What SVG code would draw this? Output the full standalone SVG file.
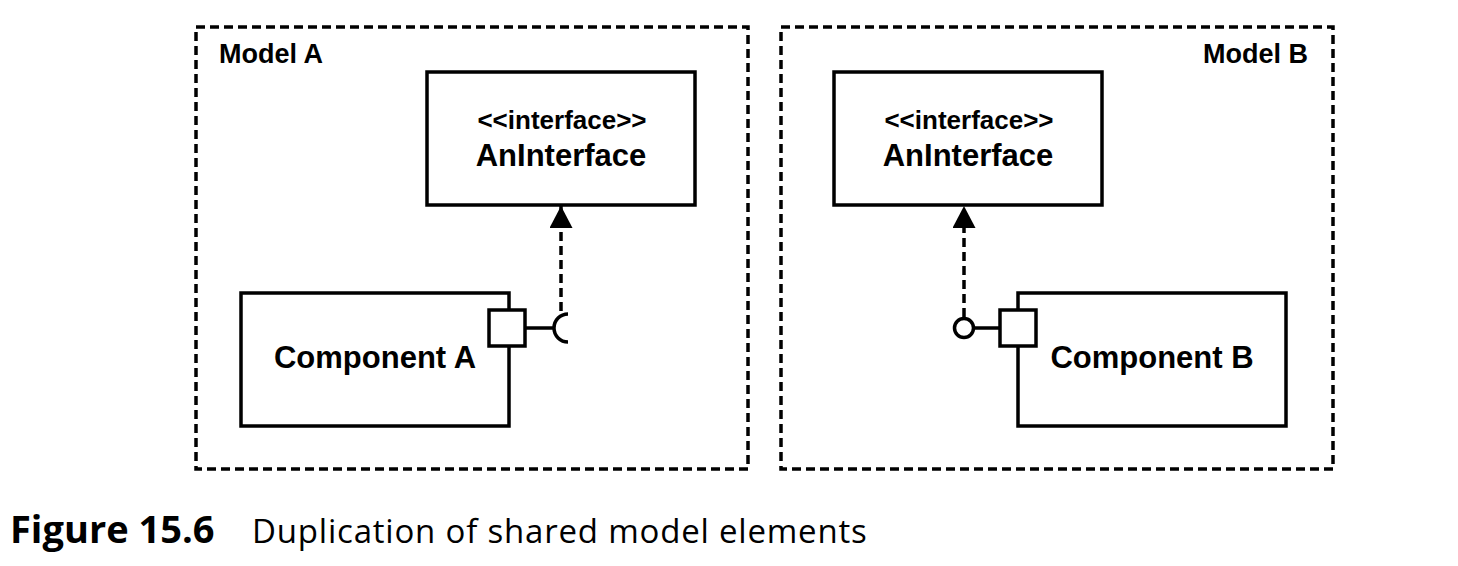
<svg xmlns="http://www.w3.org/2000/svg" width="1458" height="566" viewBox="0 0 1458 566">
<defs>
<style>
.frame{fill:none;stroke:#000;stroke-width:3.5;stroke-dasharray:9 5}
.box{fill:#fff;stroke:#000;stroke-width:3.5}
.ln{fill:none;stroke:#000;stroke-width:3.5}
.dep{fill:none;stroke:#000;stroke-width:3.5;stroke-dasharray:9 5}
.lbl{font-family:"Liberation Sans",Arial,sans-serif;font-weight:bold;fill:#000}
.cap{font-family:"Open Sans","Noto Sans",sans-serif;fill:#000}
</style>
<marker id="arr" viewBox="0 0 22 23" refX="22" refY="11.5" markerWidth="22" markerHeight="23" markerUnits="userSpaceOnUse" orient="auto">
<path d="M0,0 L22,11.5 L0,23 Z" fill="#000"/>
</marker>
</defs>
<rect width="1458" height="566" fill="#fff"/>
<g id="modelA">
<rect class="frame" x="196" y="27" width="552" height="442"/>
<text class="lbl" x="219" y="63" font-size="27">Model A</text>
</g>
<g id="modelB">
<rect class="frame" x="781" y="27" width="552" height="442"/>
<text class="lbl" x="1308" y="63" font-size="27" text-anchor="end">Model B</text>
</g>
<g id="interfaceA">
<rect class="box" x="427" y="72" width="268" height="133"/>
<text class="lbl" x="562" y="129" font-size="26" text-anchor="middle">&lt;&lt;interface&gt;&gt;</text>
<text class="lbl" x="561" y="166" font-size="31" text-anchor="middle">AnInterface</text>
</g>
<g id="interfaceB">
<rect class="box" x="834" y="72" width="268" height="133"/>
<text class="lbl" x="969" y="129" font-size="26" text-anchor="middle">&lt;&lt;interface&gt;&gt;</text>
<text class="lbl" x="968" y="166" font-size="31" text-anchor="middle">AnInterface</text>
</g>
<g id="componentA">
<rect class="box" x="241" y="293" width="268" height="133"/>
<text class="lbl" x="375" y="368" font-size="31" text-anchor="middle">Component A</text>
<rect class="box" x="489" y="310" width="36" height="36"/>
<path class="ln" d="M525,328 H554"/>
<path class="ln" d="M568,314 A14,14 0 0 0 568,342"/>
</g>
<g id="componentB">
<rect class="box" x="1018" y="293" width="268" height="133"/>
<text class="lbl" x="1152" y="368" font-size="31" text-anchor="middle">Component B</text>
<rect class="box" x="1000" y="310" width="36" height="36"/>
<path class="ln" d="M974,328 H1000"/>
<circle class="ln" cx="964" cy="328" r="9.5" fill="#fff"/>
</g>
<g id="connectors">
<path class="dep" d="M561,311 V206" marker-end="url(#arr)"/>
<path class="dep" d="M964,317 V206" marker-end="url(#arr)"/>
</g>
<g id="caption">
<text class="cap" x="10" y="543"><tspan font-weight="bold" font-size="38">Figure 15.6</tspan><tspan x="252" font-size="33" letter-spacing="0.8">Duplication of shared model elements</tspan></text>
</g>
</svg>
